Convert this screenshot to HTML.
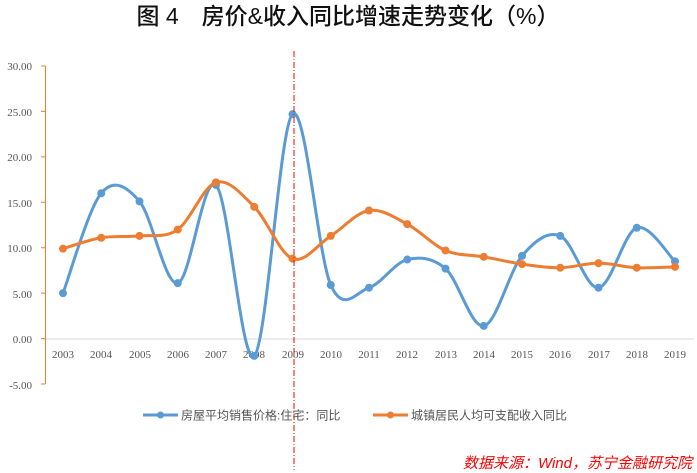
<!DOCTYPE html>
<html><head><meta charset="utf-8"><style>
body{margin:0;background:#fff;}
svg{display:block;font-family:"Liberation Sans","Noto Sans CJK SC",sans-serif;}
</style></head><body>
<svg id="s" width="697" height="473" viewBox="0 0 697 473" xmlns="http://www.w3.org/2000/svg">
<text x="348" y="24" text-anchor="middle" font-size="23" font-weight="500" fill="#111" font-family="'Liberation Sans','Noto Sans CJK SC',sans-serif">图 4　房价&amp;收入同比增速走势变化（%）</text>
<g font-family="'Liberation Serif',serif" font-size="11" fill="#555" text-anchor="end">
<text x="32" y="70">30.00</text><text x="32" y="116">25.00</text><text x="32" y="161">20.00</text>
<text x="32" y="207">15.00</text><text x="32" y="252">10.00</text><text x="32" y="298">5.00</text>
<text x="32" y="343">0.00</text><text x="32" y="389">-5.00</text>
</g>
<line x1="44" y1="339" x2="694" y2="339" stroke="#d9d9d9" stroke-width="1"/>
<path d="M45.5 66V384M41 66H45.5M41 111.4H45.5M41 156.9H45.5M41 202.3H45.5M41 247.7H45.5M41 293.1H45.5M41 338.6H45.5M41 384H45.5" stroke="#ED7D31" stroke-width="1" fill="none"/>
<g font-family="'Liberation Serif',serif" font-size="11" fill="#555" text-anchor="middle">
<text x="63" y="358">2003</text><text x="101" y="358">2004</text><text x="140" y="358">2005</text><text x="178" y="358">2006</text><text x="216" y="358">2007</text><text x="254" y="358">2008</text><text x="293" y="358">2009</text><text x="331" y="358">2010</text><text x="369" y="358">2011</text><text x="407" y="358">2012</text><text x="446" y="358">2013</text><text x="484" y="358">2014</text><text x="522" y="358">2015</text><text x="560" y="358">2016</text><text x="599" y="358">2017</text><text x="637" y="358">2018</text><text x="675" y="358">2019</text>
</g>
<g id="series"></g>
<line x1="294" y1="51" x2="294" y2="470" stroke="#FF0000" stroke-width="1" stroke-dasharray="6,2,1,2"/>
<line x1="143" y1="415" x2="178" y2="415" stroke="#5B9BD5" stroke-width="3"/><circle cx="160.5" cy="415" r="3.5" fill="#5B9BD5"/>
<text x="181" y="419.5" font-size="12" fill="#555">房屋平均销售价格:住宅：同比</text>
<line x1="373" y1="415" x2="408" y2="415" stroke="#ED7D31" stroke-width="3"/><circle cx="390.5" cy="415" r="3.5" fill="#ED7D31"/>
<text x="411" y="419.5" font-size="12" fill="#555">城镇居民人均可支配收入同比</text>
<text x="692" y="468" text-anchor="end" font-size="15" fill="#FF0000" font-style="italic">数据来源：Wind，苏宁金融研究院</text>
</svg>
<script>
var b=[5.0,16.0,15.1,6.1,16.9,-1.9,24.7,5.9,5.6,8.7,7.7,1.4,9.1,11.3,5.6,12.2,8.5];
var o=[9.9,11.1,11.3,12.0,17.2,14.5,8.8,11.3,14.1,12.6,9.7,9.0,8.2,7.8,8.3,7.8,7.9];
function X(i){return 63+i*38.25;}function Y(v){return 338.6-v*9.086;}
function path(d){var p=d.map(function(v,i){return[X(i),Y(v)]});var s="M"+p[0][0]+" "+p[0][1];
for(var i=0;i<p.length-1;i++){var p0=p[i-1]||p[i],p1=p[i],p2=p[i+1],p3=p[i+2]||p2,t=6;
s+="C"+(p1[0]+(p2[0]-p0[0])/t)+" "+(p1[1]+(p2[1]-p0[1])/t)+" "+(p2[0]-(p3[0]-p1[0])/t)+" "+(p2[1]-(p3[1]-p1[1])/t)+" "+p2[0]+" "+p2[1];}
return s;}
var g=document.getElementById("series"),h="";
[[b,"#5B9BD5"],[o,"#ED7D31"]].forEach(function(a){h+='<path d="'+path(a[0])+'" fill="none" stroke="'+a[1]+'" stroke-width="3"/>';
a[0].forEach(function(v,i){h+='<circle cx="'+X(i)+'" cy="'+Y(v)+'" r="4" fill="'+a[1]+'"/>';});});
g.innerHTML=h;
</script>
</body></html>
